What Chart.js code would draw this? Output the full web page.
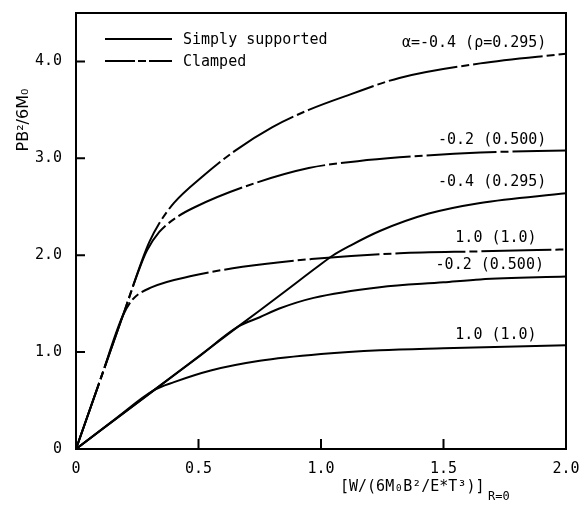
<!DOCTYPE html>
<html>
<head>
<meta charset="utf-8">
<script src="https://cdn.jsdelivr.net/npm/chart.js@4"></script>
<style>
  html, body { margin: 0; padding: 0; background: #fff; }
  #wrap { width: 579px; height: 516px; }
</style>
</head>
<body>
<div id="wrap"><canvas id="chart" width="579" height="516"></canvas></div>
<script>
// ---- data ----
const xTicks = [0, 0.5, 1.0, 1.5, 2.0];
const yTicks = [0, 1, 2, 3, 4];

// clamped
const clampedM04 = [[0,0],[0.1,0.72],[0.2,1.44],[0.27,1.95],[0.30,2.14],[0.34,2.33],[0.40,2.54],[0.52,2.82],[0.65,3.08],[0.8,3.32],[0.95,3.5],[1.12,3.66],[1.32,3.83],[1.65,3.98],[2.0,4.08]];
const clampedM02 = [[0,0],[0.1,0.72],[0.2,1.44],[0.26,1.87],[0.29,2.05],[0.34,2.24],[0.41,2.39],[0.48,2.49],[0.68,2.70],[0.95,2.90],[1.15,2.97],[1.32,3.01],[1.65,3.06],[2.0,3.08]];
const clamped10  = [[0,0],[0.1,0.72],[0.19,1.37],[0.23,1.54],[0.31,1.67],[0.48,1.79],[0.68,1.88],[0.96,1.96],[1.32,2.02],[1.65,2.04],[2.0,2.06]];

// simply supported
const simpleM04 = [[0,0],[0.32,0.61],[0.66,1.26],[0.85,1.62],[0.98,1.87],[1.05,2.0],[1.12,2.1],[1.24,2.25],[1.44,2.43],[1.65,2.54],[2.0,2.64]];
const simpleM02 = [[0,0],[0.32,0.61],[0.5,0.95],[0.66,1.26],[0.75,1.36],[0.83,1.45],[0.97,1.56],[1.24,1.67],[1.5,1.72],[1.65,1.75],[2.0,1.78]];
const simple10  = [[0,0],[0.16,0.31],[0.32,0.61],[0.4,0.69],[0.55,0.81],[0.75,0.91],[1.0,0.98],[1.24,1.02],[1.5,1.04],[2.0,1.07]];

const curveLabels = ["α=-0.4 (ρ=0.295)", "-0.2 (0.500)", "-0.4 (0.295)", "1.0 (1.0)", "-0.2 (0.500)", "1.0 (1.0)"];
const legendLabels = ["Simply supported", "Clamped"];

const MONO = "'DejaVu Sans Mono', 'Liberation Mono', monospace";
const CLAMP_DASH = [70, 4, 8, 4];

function pts(arr) { return arr.map(p => ({ x: p[0], y: p[1] })); }

function line(arr, clamped) {
  return {
    data: pts(arr),
    borderColor: "#000",
    borderWidth: 2,
    borderDash: clamped ? CLAMP_DASH : [],
    pointRadius: 0,
    fill: false,
    cubicInterpolationMode: "monotone"
  };
}

// labels, legend, frame and inward ticks
const decor = {
  id: "decor",
  afterDraw(chart) {
    const ctx = chart.ctx;
    const xs = chart.scales.x, ys = chart.scales.y;
    const a = chart.chartArea;
    ctx.save();
    ctx.strokeStyle = "#000";
    ctx.fillStyle = "#000";

    // frame
    ctx.lineWidth = 2;
    ctx.strokeRect(a.left, a.top, a.right - a.left, a.bottom - a.top);

    // inward ticks
    ctx.beginPath();
    yTicks.slice(1).forEach(v => {
      const py = ys.getPixelForValue(v);
      ctx.moveTo(a.left, py); ctx.lineTo(a.left + 9, py);
    });
    xTicks.slice(1, -1).forEach(v => {
      const px = xs.getPixelForValue(v);
      ctx.moveTo(px, a.bottom); ctx.lineTo(px, a.bottom - 10);
    });
    ctx.stroke();

    // curve labels (data coords, right aligned)
    const spots = [[1.92, 4.19], [1.92, 3.19], [1.92, 2.75], [1.88, 2.18], [1.91, 1.90], [1.88, 1.18]];
    ctx.font = "15px " + MONO;
    ctx.textAlign = "right";
    ctx.textBaseline = "middle";
    curveLabels.forEach((t, i) => {
      ctx.fillText(t, xs.getPixelForValue(spots[i][0]), ys.getPixelForValue(spots[i][1]));
    });

    // legend
    [39, 61].forEach((y, i) => {
      ctx.setLineDash(i === 0 ? [] : [30, 3, 8, 3]);
      ctx.beginPath();
      ctx.moveTo(105, y); ctx.lineTo(172, y);
      ctx.stroke();
      ctx.setLineDash([]);
      ctx.textAlign = "left";
      ctx.fillText(legendLabels[i], 183, y + 1);
    });

    // y title
    ctx.save();
    ctx.translate(24, 120);
    ctx.rotate(-Math.PI / 2);
    ctx.textAlign = "center";
    ctx.font = "16px 'DejaVu Sans', sans-serif";
    ctx.fillText("PB²/6M₀", 0, 0);
    ctx.restore();

    // x title with subscript
    ctx.textAlign = "left";
    ctx.font = "15px " + MONO;
    ctx.fillText("[W/(6M₀B²/E*T³)]", 340, 487);
    ctx.font = "12px " + MONO;
    ctx.fillText("R=0", 488, 497);

    ctx.restore();
  }
};

new Chart(document.getElementById("chart"), {
  type: "line",
  data: {
    datasets: [
      line(clampedM04, true),
      line(clampedM02, true),
      line(clamped10, true),
      line(simpleM04, false),
      line(simpleM02, false),
      line(simple10, false)
    ]
  },
  options: {
    responsive: false,
    animation: false,
    layout: { padding: { top: 13, right: 13, left: 0, bottom: 0 } },
    plugins: { legend: { display: false }, tooltip: { enabled: false } },
    scales: {
      x: {
        type: "linear",
        min: 0, max: 2,
        grid: { display: false },
        border: { display: false },
        afterBuildTicks: s => { s.ticks = xTicks.map(v => ({ value: v })); },
        afterFit: s => { s.height = 67; s.paddingLeft = 0; s.paddingRight = 0; },
        ticks: {
          color: "#000",
          font: { family: MONO, size: 15 },
          padding: 3,
          maxRotation: 0,
          callback: v => v === 0 ? "0" : v.toFixed(1)
        }
      },
      y: {
        min: 0, max: 4.5,
        grid: { display: false },
        border: { display: false },
        afterBuildTicks: s => { s.ticks = yTicks.map(v => ({ value: v })); },
        afterFit: s => { s.width = 76; s.paddingTop = 0; s.paddingBottom = 0; },
        ticks: {
          color: "#000",
          font: { family: MONO, size: 15 },
          padding: 6,
          callback: v => v === 0 ? "0" : v.toFixed(1)
        }
      }
    }
  },
  plugins: [decor]
});
</script>
</body>
</html>
